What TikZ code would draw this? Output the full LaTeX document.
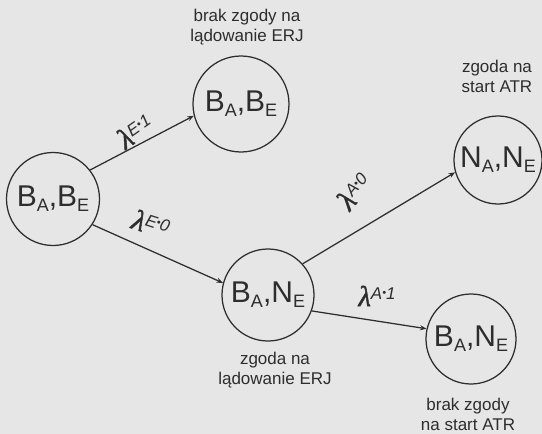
\documentclass[tikz,border=0pt]{standalone}
\usepackage{fontspec}
\setmainfont{Liberation Sans}
\newfontfamily\lamfont[FakeBold=1.5]{Liberation Serif}
\usetikzlibrary{arrows.meta}
\definecolor{bgc}{RGB}{230,230,230}
\definecolor{ink}{RGB}{45,45,45}
\newcommand{\mysub}[1]{\raisebox{-5pt}{\fontsize{18}{18}\selectfont #1}}
\newcommand{\lab}[2]{{\lamfont\itshape\fontsize{29}{29}\selectfont λ}\raisebox{7pt}{\fontsize{17}{17}\selectfont\itshape #1\raisebox{3pt}{\fontsize{11}{11}\selectfont •}#2}}
\tikzset{
  state/.style={circle, draw=ink, line width=1.25pt, inner sep=0pt, text=ink,
    font=\fontsize{30}{30}\selectfont},
  arr/.style={draw=ink, line width=1.25pt, -{Stealth[length=6.5pt,width=5pt]}},
  note/.style={align=center, text=ink, font=\fontsize{17}{20}\selectfont},
  lam/.style={text=ink, inner sep=0pt}
}
\begin{document}
\begin{tikzpicture}[x=1pt,y=-1pt]
\fill[bgc] (0,0) rectangle (542,434);
\useasboundingbox (0,0) rectangle (542,434);

\node[state, minimum size=93pt] (L) at (53,199) {B\mysub{A},B\mysub{E}};
\node[state, minimum size=96pt] (T) at (241,104) {B\mysub{A},B\mysub{E}};
\node[state, minimum size=88pt] (N) at (498,160) {N\mysub{A},N\mysub{E}};
\node[state, minimum size=92pt] (M) at (268,295) {B\mysub{A},N\mysub{E}};
\node[state, minimum size=90pt] (R) at (471,339) {B\mysub{A},N\mysub{E}};

\draw[arr] (L.38) -- (T.194);
\draw[arr] (L.-33) -- (M.165);
\draw[arr] (M.42) -- (N.196);
\draw[arr] (M.-20) -- (R.167);

\node[lam, rotate=35] (l1) at (135,131) {\lab{E}{1}};
\node[lam, rotate=-18] (l2) at (151,224) {\lab{E}{0}};
\node[lam, rotate=50] (l3) at (354,191) {\lab{A}{0}};
\node[lam, rotate=0] (l4) at (377,296) {\lab{A}{1}};

\node[note] (t1) at (247,27) {brak zgody na\\lądowanie ERJ};
\node[note] (t2) at (497,76) {zgoda na\\start ATR};
\node[note] (t3) at (275,370) {zgoda na\\lądowanie ERJ};
\node[note] (t4) at (468,414) {brak zgody\\na start ATR};
\end{tikzpicture}
\end{document}
